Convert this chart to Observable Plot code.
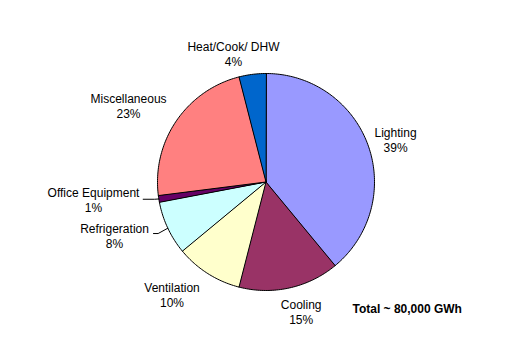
<!DOCTYPE html>
<html>
<head>
<meta charset="utf-8">
<script src="https://cdn.jsdelivr.net/npm/d3@7"></script>
<script src="https://cdn.jsdelivr.net/npm/@observablehq/plot@0.6"></script>
<style>
  html, body { margin: 0; padding: 0; background: #fff; }
  #chart svg { display: block; }
</style>
</head>
<body>
<div id="chart"></div>
<script>
// ---- data ----
const categories = ["Lighting", "Cooling", "Ventilation", "Refrigeration", "Office Equipment", "Miscellaneous", "Heat/Cook/ DHW"];
const shares = [39, 15, 10, 8, 1, 23, 4];
const totalNote = "Total ~ 80,000 GWh";

// ---- style / layout ----
const colors = ["#9999FF", "#993366", "#FFFFCC", "#CCFFFF", "#660066", "#FF8080", "#0066CC"];
// label centres, in units of the pie radius (x right, y up)
const labelAt = [[1.194, 0.392], [0.324, -1.194], [-0.866, -1.037], [-1.396, -0.493], [-1.59, -0.161], [-1.267, 0.70], [-0.30, 1.18]];
// leader lines: [start x, elbow x, y] for labels that were dragged away
const leaders = {"Refrigeration": [-1.037, -0.994, -0.475], "Office Equipment": [-1.132, -1.028, -0.159]};

const arcs = d3.pie().sort(null).value(d => d.share)(categories.map((c, i) => ({category: c, share: shares[i]})));

// slice outlines
const slicePts = [];
arcs.forEach(a => {
  const c = a.data.category;
  slicePts.push({category: c, x: 0, y: 0});
  const n = Math.max(2, Math.ceil((a.endAngle - a.startAngle) / (Math.PI / 180)));
  for (let k = 0; k <= n; k++) {
    const t = a.startAngle + (a.endAngle - a.startAngle) * k / n;
    slicePts.push({category: c, x: Math.sin(t), y: Math.cos(t)});
  }
});

const labels = arcs.map((a, i) => ({
  text: a.data.category + "\n" + a.data.share + "%",
  x: labelAt[i][0], y: labelAt[i][1]
}));

const leaderPts = [];
arcs.forEach(a => {
  const L = leaders[a.data.category];
  if (!L) return;
  const m = (a.startAngle + a.endAngle) / 2;
  const c = a.data.category;
  leaderPts.push({category: c, x: L[0], y: L[2]});
  leaderPts.push({category: c, x: L[1], y: L[2]});
  leaderPts.push({category: c, x: Math.sin(m), y: Math.cos(m)});
});

const chart = Plot.plot({
  width: 532,
  height: 364,
  margin: 0,
  x: {domain: [-1, 1], range: [157, 374], axis: null},
  y: {domain: [-1, 1], range: [290, 73], axis: null},
  color: {type: "ordinal", domain: categories, range: colors},
  style: {fontFamily: "'Liberation Sans', Arial, sans-serif", fontSize: "12px", background: "#fff", color: "#000"},
  marks: [
    Plot.line(slicePts, {x: "x", y: "y", z: "category", fill: "category", stroke: "#000", strokeWidth: 1, curve: "linear-closed", strokeLinejoin: "round"}),
    Plot.line(leaderPts, {x: "x", y: "y", z: "category", stroke: "#000", strokeWidth: 1}),
    Plot.text(labels, {x: "x", y: "y", text: "text", fill: "#000", fontSize: 12, lineHeight: 1.25, lineAnchor: "middle"}),
    Plot.text([totalNote], {x: 0.797, y: -1.175, text: d => d, textAnchor: "start", fontWeight: "bold", fontSize: 12, fill: "#000"})
  ]
});
document.getElementById("chart").appendChild(chart);
</script>
</body>
</html>
